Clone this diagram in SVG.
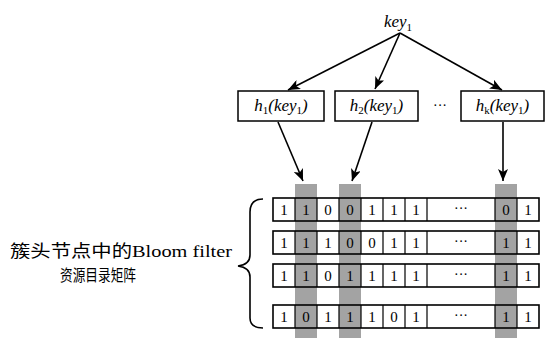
<svg xmlns="http://www.w3.org/2000/svg" width="546" height="338" viewBox="0 0 546 338">
  <defs>
    <marker id="arrow" viewBox="0 0 12 10" refX="12" refY="5" markerWidth="12" markerHeight="10" markerUnits="userSpaceOnUse" orient="auto">
      <path d="M0,0 L12,5 L0,10 L3,5 Z" fill="#000"/>
    </marker>
    <style>
      .hbox { fill: #fff; stroke: #000; stroke-width: 1.5; }
      .hlab { font-family: "Liberation Serif", serif; font-style: italic; font-size: 17px; fill: #000; text-anchor: middle; }
      .sub { font-size: 11px; font-style: normal; }
      .edge { stroke: #000; stroke-width: 1.6; fill: none; marker-end: url(#arrow); }
      .shade { fill: #a3a3a3; }
      .row { fill: none; stroke: #000; stroke-width: 1.6; }
      .div { stroke: #000; stroke-width: 1.2; }
      .bit { font-family: "Liberation Serif", serif; font-size: 15px; fill: #000; text-anchor: middle; }
      .dots { font-family: "Liberation Serif", serif; font-size: 14px; fill: #000; text-anchor: middle; }
      .cap { font-family: "Liberation Serif", "Noto Sans CJK SC", serif; fill: #000; }
    </style>
  </defs>

  <!-- highlighted columns selected by the hash functions -->
  <g id="highlights">
    <rect class="shade" x="295" y="184" width="22" height="154"/>
    <rect class="shade" x="339" y="184" width="22" height="154"/>
    <rect class="shade" x="495" y="184" width="22" height="154"/>
  </g>

  <!-- key -->
  <g id="key">
    <text class="hlab" x="398" y="27" font-size="18">key<tspan class="sub" dy="4">1</tspan></text>
  </g>

  <!-- hash functions -->
  <g id="h1">
    <rect class="hbox" x="238" y="91" width="86" height="30"/>
    <text class="hlab" x="281" y="111">h<tspan class="sub" dy="3">1</tspan><tspan dy="-3">(key</tspan><tspan class="sub" dy="3">1</tspan><tspan dy="-3">)</tspan></text>
  </g>
  <g id="h2">
    <rect class="hbox" x="335" y="91" width="83" height="30"/>
    <text class="hlab" x="376.5" y="111">h<tspan class="sub" dy="3">2</tspan><tspan dy="-3">(key</tspan><tspan class="sub" dy="3">1</tspan><tspan dy="-3">)</tspan></text>
  </g>
  <g id="hdots">
    <text class="dots" x="440" y="110">···</text>
  </g>
  <g id="hk">
    <rect class="hbox" x="461" y="91" width="83" height="30"/>
    <text class="hlab" x="502.5" y="111">h<tspan class="sub" dy="3">k</tspan><tspan dy="-3">(key</tspan><tspan class="sub" dy="3">1</tspan><tspan dy="-3">)</tspan></text>
  </g>

  <!-- connectors -->
  <g id="connectors">
    <line class="edge" x1="400" y1="33" x2="288" y2="90"/>
    <line class="edge" x1="400" y1="33" x2="375" y2="89"/>
    <line class="edge" x1="400" y1="33" x2="502" y2="90"/>
    <line class="edge" x1="278" y1="122" x2="303" y2="181"/>
    <line class="edge" x1="372" y1="122" x2="352" y2="181"/>
    <line class="edge" x1="503" y1="122" x2="503" y2="181"/>
  </g>

  <!-- bit matrix rows -->
  <g id="row1">
    <rect class="row" x="273" y="198" width="266" height="23"/>
    <path class="div" d="M295,198v23M317,198v23M339,198v23M361,198v23M383,198v23M405,198v23M427,198v23M495,198v23M517,198v23"/>
    <text class="bit" y="215"><tspan x="284">1</tspan><tspan x="306">1</tspan><tspan x="328">0</tspan><tspan x="350">0</tspan><tspan x="372">1</tspan><tspan x="394">1</tspan><tspan x="416">1</tspan><tspan x="506">0</tspan><tspan x="528">1</tspan></text>
    <text class="dots" x="461" y="213">···</text>
  </g>
  <g id="row2">
    <rect class="row" x="273" y="231" width="266" height="23"/>
    <path class="div" d="M295,231v23M317,231v23M339,231v23M361,231v23M383,231v23M405,231v23M427,231v23M495,231v23M517,231v23"/>
    <text class="bit" y="248"><tspan x="284">1</tspan><tspan x="306">1</tspan><tspan x="328">1</tspan><tspan x="350">0</tspan><tspan x="372">0</tspan><tspan x="394">1</tspan><tspan x="416">1</tspan><tspan x="506">1</tspan><tspan x="528">1</tspan></text>
    <text class="dots" x="461" y="246">···</text>
  </g>
  <g id="row3">
    <rect class="row" x="273" y="264" width="266" height="23"/>
    <path class="div" d="M295,264v23M317,264v23M339,264v23M361,264v23M383,264v23M405,264v23M427,264v23M495,264v23M517,264v23"/>
    <text class="bit" y="281"><tspan x="284">1</tspan><tspan x="306">1</tspan><tspan x="328">0</tspan><tspan x="350">1</tspan><tspan x="372">1</tspan><tspan x="394">1</tspan><tspan x="416">1</tspan><tspan x="506">1</tspan><tspan x="528">1</tspan></text>
    <text class="dots" x="461" y="279">···</text>
  </g>
  <g id="row4">
    <rect class="row" x="273" y="305" width="266" height="23"/>
    <path class="div" d="M295,305v23M317,305v23M339,305v23M361,305v23M383,305v23M405,305v23M427,305v23M495,305v23M517,305v23"/>
    <text class="bit" y="322"><tspan x="284">1</tspan><tspan x="306">0</tspan><tspan x="328">1</tspan><tspan x="350">1</tspan><tspan x="372">1</tspan><tspan x="394">0</tspan><tspan x="416">1</tspan><tspan x="506">1</tspan><tspan x="528">1</tspan></text>
    <text class="dots" x="461" y="320">···</text>
  </g>

  <!-- brace grouping the rows -->
  <g id="brace">
    <path d="M263,199 C254,199 250,203 250,212 L250,255 C250,262 246,265 238,266 C246,267 250,270 250,277 L250,318 C250,325 254,328 263,328" fill="none" stroke="#000" stroke-width="1.6"/>
  </g>

  <!-- caption -->
  <g id="caption">
    <text class="cap" x="10" y="257" font-size="17" textLength="222" lengthAdjust="spacingAndGlyphs">簇头节点中的Bloom filter</text>
    <text class="cap" x="60" y="281" font-size="16" textLength="76" lengthAdjust="spacingAndGlyphs">资源目录矩阵</text>
  </g>
</svg>
